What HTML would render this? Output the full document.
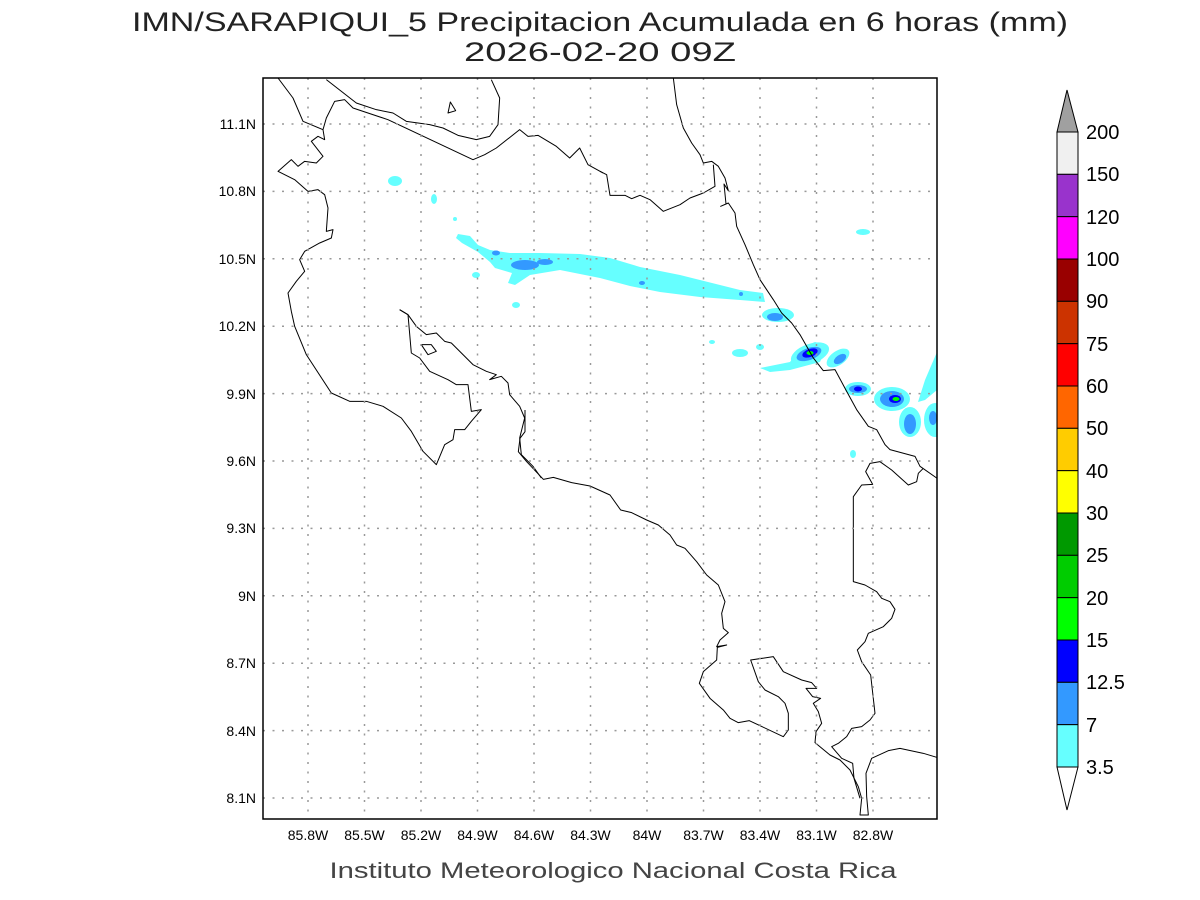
<!DOCTYPE html>
<html><head><meta charset="utf-8"><style>html,body{margin:0;padding:0;background:#fff}svg{display:block}</style></head><body>
<svg width="1200" height="900" viewBox="0 0 1200 900" xmlns="http://www.w3.org/2000/svg" font-family="Liberation Sans, sans-serif">
<rect width="1200" height="900" fill="#fff"/>
<text x="600" y="31" font-size="27" text-anchor="middle" textLength="936" lengthAdjust="spacingAndGlyphs" fill="#222">IMN/SARAPIQUI_5 Precipitacion Acumulada en 6 horas (mm)</text>
<text x="600" y="61" font-size="27" text-anchor="middle" textLength="272" lengthAdjust="spacingAndGlyphs" fill="#222">2026-02-20 09Z</text>
<svg x="263" y="78" width="674" height="741" viewBox="263 78 674 741" overflow="hidden">
<g fill="#66ffff">
<path d="M458,234 L470,236 478,245 490,250 510,253 540,253 580,254 610,258 640,267 680,275 720,285 740,290 763,293 765,302 740,300 700,297 660,292 630,286 600,278 560,270 530,275 515,285 508,283 512,273 495,268 490,262 478,252 462,243 456,238Z"/>
<ellipse cx="395" cy="181" rx="7" ry="5"/><ellipse cx="434" cy="199" rx="3" ry="5"/><ellipse cx="455" cy="219" rx="2" ry="2"/>
<ellipse cx="476" cy="275" rx="4" ry="3"/><ellipse cx="516" cy="305" rx="4" ry="3"/>
<ellipse cx="863" cy="232" rx="7" ry="3"/><ellipse cx="712" cy="342" rx="3" ry="2"/><ellipse cx="740" cy="353" rx="8" ry="4"/><ellipse cx="760" cy="347" rx="4" ry="3"/>
<ellipse cx="778" cy="315" rx="16" ry="7"/>
<path d="M760,368 L790,362 800,348 815,342 827,345 820,362 790,370 770,372Z"/>
<ellipse cx="810" cy="354" rx="20" ry="10" transform="rotate(-20 810 354)"/>
<ellipse cx="838" cy="358" rx="13" ry="7" transform="rotate(-35 838 358)"/>
<ellipse cx="858" cy="389" rx="13" ry="7"/>
<ellipse cx="892" cy="399" rx="18" ry="12"/>
<ellipse cx="910" cy="422" rx="11" ry="15"/>
<path d="M918,402 L925,380 937,352 937,390 925,400Z"/>
<ellipse cx="935" cy="420" rx="11" ry="17"/>
<ellipse cx="853" cy="454" rx="3" ry="4"/>
</g>
<g fill="#3399ff">
<ellipse cx="525" cy="265" rx="14" ry="5"/><ellipse cx="545" cy="262" rx="8" ry="3"/><ellipse cx="496" cy="253" rx="4" ry="2.5"/>
<ellipse cx="642" cy="283" rx="3" ry="2"/><ellipse cx="741" cy="294" rx="2" ry="2"/>
<ellipse cx="775" cy="317" rx="8" ry="4"/>
<ellipse cx="809" cy="354" rx="13" ry="6" transform="rotate(-20 809 354)"/>
<ellipse cx="840" cy="359" rx="7" ry="4" transform="rotate(-35 840 359)"/>
<ellipse cx="858" cy="389" rx="9" ry="4"/>
<ellipse cx="892" cy="399" rx="12" ry="8"/>
<ellipse cx="910" cy="424" rx="6" ry="10"/>
<ellipse cx="933" cy="418" rx="4" ry="7"/>
</g>
<g fill="#0000ff">
<ellipse cx="810" cy="353" rx="8" ry="4" transform="rotate(-20 810 353)"/>
<ellipse cx="858" cy="389" rx="4" ry="2.5"/>
<ellipse cx="895" cy="399" rx="6" ry="4"/>
</g>
<g fill="#00ff00"><ellipse cx="810" cy="353" rx="3.5" ry="2"/><ellipse cx="896" cy="399" rx="3.5" ry="2"/></g>
<g fill="none" stroke="#000" stroke-width="3" stroke-linejoin="round" transform="translate(263,78) scale(0.33333)">
<polyline points="45,0 90,60 120,130 180,155 190,120 215,70 245,65 270,90 375,125 630,245 665,230 700,210 770,155 795,175 825,172 880,205 920,240 950,210 975,260 1020,285"/>
<polyline points="190,5 280,75 340,95 390,105 430,130 500,140 540,150 585,172 640,185 680,175 705,140 710,60 685,5"/>
<polygon points="555,105 562,72 578,98"/>
<polygon points="475,800 505,800 520,820 495,830"/>
<polyline points="180,155 185,185 165,175 145,190 180,235 160,255 125,250 105,265 85,245 45,280 95,305 135,340 165,335 185,350 195,390 190,460 210,455 205,480 170,495 125,520 110,545 125,580 100,610 75,645 85,700 95,745 130,830 205,945 260,970 310,970 360,985 415,1020 445,1060 480,1120 520,1160 545,1100 570,1085 575,1055 605,1055 625,1030 655,995 625,1000 615,920 580,920 555,905 500,880 470,840 445,825 435,710 410,695"/>
<polyline points="410,695 435,710 460,745 490,770 520,765 545,790 565,795 600,830 630,860 670,880 700,890 680,905 715,895 735,915 740,950 770,985 785,1020 770,1080 775,1130 810,1165 835,1200"/>
</g>
<g fill="none" stroke="#000" stroke-width="3" stroke-linejoin="round" transform="translate(600,78) scale(0.33333)">
<polyline points="220,0 230,80 250,150 275,195 300,230 310,255 335,250 355,265 375,300 385,338 372,318 378,378 362,385 385,375 405,405 410,445 435,500 460,560 480,605 520,665 545,705 575,735 600,770 640,840 670,878 705,875 740,940 770,995 805,1045 830,1055 855,1100 870,1115 945,1135 960,1165 1010,1200 1040,1230"/>
<polyline points="0,280 20,290 30,352 75,352 95,362 120,352 150,365 190,400 240,380 270,360 310,345 345,325 340,260"/>
</g>
<g fill="none" stroke="#000" stroke-width="3" stroke-linejoin="round" transform="translate(500,420) scale(0.33333)">
<polyline points="75,-30 75,35 60,55 55,95 80,125 130,178 160,172 215,188 270,198 330,225 362,270 395,278 440,300 475,315 510,345 530,375 555,385 590,425 620,465 655,495 675,545 665,580 670,625 685,638 660,660 650,680 680,675 652,682 650,720 610,755 598,790 630,835 670,870 690,895 715,908 748,902 850,950 865,930 865,880 855,850 835,830 795,810 775,785 752,720 820,710 850,755 905,780 935,788 950,805 918,805 938,830 962,835 940,850 955,875 965,910 948,935 945,968 990,1005 1020,1020 1050,1050 1075,1100 1085,1135 1080,1185 1105,1185 1100,1130 1098,1060 1115,1015 1165,992 1200,985 1270,1000 1310,1012"/>
<polyline points="1270,145 1255,160 1250,185 1225,195 1175,150 1140,125 1110,130 1097,155 1118,193 1085,195 1060,230 1060,485 1095,495 1130,515 1145,535 1170,545 1185,568 1175,595 1150,620 1105,640 1095,665 1072,690 1085,725 1112,765 1125,880 1110,900 1085,920 1055,925 1040,950 1015,970 995,980 1025,1015 1058,1030 1062,1075 1080,1135"/>
</g>
<g stroke="#999" stroke-width="1.5" stroke-dasharray="2,7.5">
<line x1="308" y1="78" x2="308" y2="819"/><line x1="364.5" y1="78" x2="364.5" y2="819"/><line x1="421" y1="78" x2="421" y2="819"/><line x1="477.5" y1="78" x2="477.5" y2="819"/><line x1="534" y1="78" x2="534" y2="819"/><line x1="590.5" y1="78" x2="590.5" y2="819"/><line x1="647" y1="78" x2="647" y2="819"/><line x1="703.5" y1="78" x2="703.5" y2="819"/><line x1="760" y1="78" x2="760" y2="819"/><line x1="816.5" y1="78" x2="816.5" y2="819"/><line x1="873" y1="78" x2="873" y2="819"/>
<line x1="263" y1="124" x2="937" y2="124"/><line x1="263" y1="191.4" x2="937" y2="191.4"/><line x1="263" y1="258.8" x2="937" y2="258.8"/><line x1="263" y1="326.2" x2="937" y2="326.2"/><line x1="263" y1="393.6" x2="937" y2="393.6"/><line x1="263" y1="461" x2="937" y2="461"/><line x1="263" y1="528.4" x2="937" y2="528.4"/><line x1="263" y1="595.8" x2="937" y2="595.8"/><line x1="263" y1="663.2" x2="937" y2="663.2"/><line x1="263" y1="730.6" x2="937" y2="730.6"/><line x1="263" y1="798" x2="937" y2="798"/>
</g>
</svg>
<rect x="263" y="78" width="674" height="741" fill="none" stroke="#000" stroke-width="1.5"/>
<g font-size="14" fill="#000" text-anchor="end">
<text x="256" y="129">11.1N</text><text x="256" y="196">10.8N</text><text x="256" y="264">10.5N</text><text x="256" y="331">10.2N</text><text x="256" y="399">9.9N</text><text x="256" y="466">9.6N</text><text x="256" y="533">9.3N</text><text x="256" y="601">9N</text><text x="256" y="668">8.7N</text><text x="256" y="736">8.4N</text><text x="256" y="803">8.1N</text>
</g>
<g font-size="14" fill="#000" text-anchor="middle">
<text x="308" y="840">85.8W</text><text x="364.5" y="840">85.5W</text><text x="421" y="840">85.2W</text><text x="477.5" y="840">84.9W</text><text x="534" y="840">84.6W</text><text x="590.5" y="840">84.3W</text><text x="647" y="840">84W</text><text x="703.5" y="840">83.7W</text><text x="760" y="840">83.4W</text><text x="816.5" y="840">83.1W</text><text x="873" y="840">82.8W</text>
</g>
<text x="613" y="878" font-size="22" text-anchor="middle" textLength="567" lengthAdjust="spacingAndGlyphs" fill="#444">Instituto Meteorologico Nacional Costa Rica</text>
<g stroke="#000" stroke-width="1">
<polygon points="1067,90 1078,132 1057,132" fill="#a0a0a0"/>
<rect x="1057" y="132" width="21" height="42.33" fill="#f0f0f0"/>
<rect x="1057" y="174.33" width="21" height="42.33" fill="#9933cc"/>
<rect x="1057" y="216.67" width="21" height="42.33" fill="#ff00ff"/>
<rect x="1057" y="259" width="21" height="42.33" fill="#990000"/>
<rect x="1057" y="301.33" width="21" height="42.33" fill="#cc3300"/>
<rect x="1057" y="343.67" width="21" height="42.33" fill="#ff0000"/>
<rect x="1057" y="386" width="21" height="42.33" fill="#ff6600"/>
<rect x="1057" y="428.33" width="21" height="42.33" fill="#ffcc00"/>
<rect x="1057" y="470.67" width="21" height="42.33" fill="#ffff00"/>
<rect x="1057" y="513" width="21" height="42.33" fill="#009900"/>
<rect x="1057" y="555.33" width="21" height="42.33" fill="#00cc00"/>
<rect x="1057" y="597.67" width="21" height="42.33" fill="#00ff00"/>
<rect x="1057" y="640" width="21" height="42.33" fill="#0000ff"/>
<rect x="1057" y="682.33" width="21" height="42.33" fill="#3399ff"/>
<rect x="1057" y="724.67" width="21" height="42.33" fill="#66ffff"/>
<polygon points="1057,767 1078,767 1067,810" fill="#fff"/>
</g>
<g font-size="20" fill="#000">
<text x="1086" y="139">200</text><text x="1086" y="181">150</text><text x="1086" y="224">120</text><text x="1086" y="266">100</text><text x="1086" y="308">90</text><text x="1086" y="351">75</text><text x="1086" y="393">60</text><text x="1086" y="435">50</text><text x="1086" y="478">40</text><text x="1086" y="520">30</text><text x="1086" y="562">25</text><text x="1086" y="605">20</text><text x="1086" y="647">15</text><text x="1086" y="689">12.5</text><text x="1086" y="732">7</text><text x="1086" y="774">3.5</text>
</g>
</svg>
</body></html>
